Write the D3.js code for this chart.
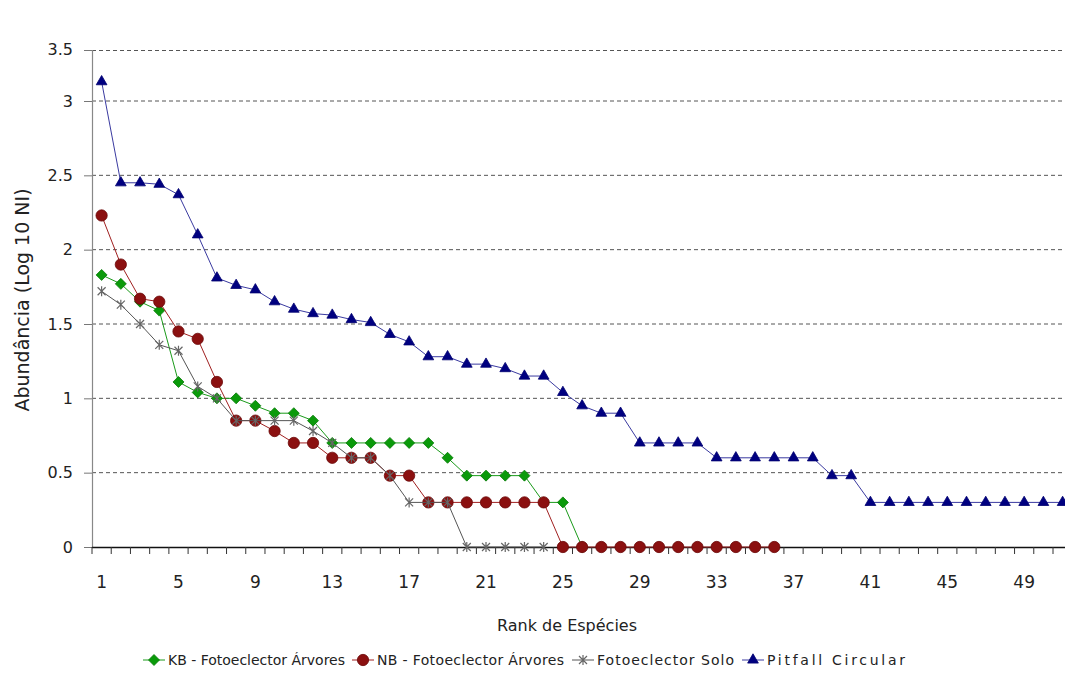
<!DOCTYPE html>
<html>
<head>
<meta charset="utf-8">
<script src="https://cdn.jsdelivr.net/npm/d3@7"></script>
<style>
  html, body { margin: 0; padding: 0; background: #fff; }
  svg { display: block; }
  text { font-family: "DejaVu Sans", Verdana, sans-serif; fill: #222; }
</style>
</head>
<body>
<svg id="chart" width="1065" height="693"></svg>
<script>
// ---------------- DATA ----------------
const ranks = [1,2,3,4,5,6,7,8,9,10,11,12,13,14,15,16,17,18,19,20,21,22,23,24,25,26,
  27,28,29,30,31,32,33,34,35,36,37,38,39,40,41,42,43,44,45,46,47,48,49,50,51];
const xTickLabels = [1,5,9,13,17,21,25,29,33,37,41,45,49];
const yTickValues = [0,0.5,1,1.5,2,2.5,3];
const yTopLabel = "3.5";

const seriesNames = ["KB - Fotoeclector Árvores", "NB - Fotoeclector Árvores", "Fotoeclector Solo", "Pitfall Circular"];

const kbValues = [1.83,1.77,1.65,1.59,1.11,1.04,1.00,1.00,0.95,0.90,0.90,0.85,0.70,0.70,0.70,0.70,0.70,0.70,
  0.60,0.48,0.48,0.48,0.48,0.30,0.30,0.00];
const nbValues = [2.23,1.90,1.67,1.65,1.45,1.40,1.11,0.85,0.85,0.78,0.70,0.70,0.60,0.60,0.60,0.48,0.48,
  0.30,0.30,0.30,0.30,0.30,0.30,0.30,0,0,0,0,0,0,0,0,0,0,0,0];
const soloValues = [1.72,1.63,1.50,1.36,1.32,1.08,1.00,0.85,0.85,0.85,0.85,0.78,0.70,0.60,0.60,0.48,
  0.30,0.30,0.30,0,0,0,0,0];
const pitfallValues = [3.13,2.45,2.45,2.44,2.37,2.10,1.81,1.76,1.73,1.65,1.60,1.57,1.56,1.53,1.51,1.43,
  1.38,1.28,1.28,1.23,1.23,1.20,1.15,1.15,1.04,0.95,0.90,0.90,0.70,0.70,0.70,0.70,
  0.60,0.60,0.60,0.60,0.60,0.60,0.48,0.48,0.30,0.30,0.30,0.30,0.30,0.30,0.30,0.30,0.30,0.30,0.30];

// ---------------- LAYOUT ----------------
const svg = d3.select("#chart");
const W = 1065, H = 693;
const plotLeft = 92, plotTop = 50, plotBottom = 547;
const bandW = 19.22;

const x = d3.scaleBand().domain(ranks).range([plotLeft, plotLeft + ranks.length * bandW]).padding(0);
const y = d3.scaleLinear().domain([0, 3]).range([plotBottom, 101]);
const cx = r => x(r) + x.bandwidth() / 2;
const plotRight = W;

// gridlines (dashed)
const grid = svg.append("g").attr("class", "grid");
grid.selectAll("line.g").data(yTickValues.filter(v => v > 0)).enter().append("line")
  .attr("x1", plotLeft).attr("x2", plotRight)
  .attr("y1", d => y(d)).attr("y2", d => y(d))
  .attr("stroke", "#555").attr("stroke-width", 1).attr("stroke-dasharray", "4,3");
// top gridline (3.5)
grid.append("line").attr("x1", plotLeft).attr("x2", plotRight)
  .attr("y1", plotTop + 0.5).attr("y2", plotTop + 0.5)
  .attr("stroke", "#555").attr("stroke-width", 1).attr("stroke-dasharray", "4,3");

// Y axis
const yAxis = svg.append("g").attr("transform", `translate(${plotLeft},0)`)
  .call(d3.axisLeft(y).tickValues(yTickValues).tickSize(8).tickPadding(11).tickFormat(d => String(d)));
yAxis.select(".domain").remove();
yAxis.selectAll(".tick line").attr("stroke", "#777");
yAxis.selectAll(".tick text").style("font-size", "16px").attr("fill", "#222");
// top tick + label 3.5
yAxis.append("line").attr("x1", -8).attr("x2", 0).attr("y1", plotTop + 0.5).attr("y2", plotTop + 0.5).attr("stroke", "#777");
yAxis.append("text").attr("x", -19).attr("y", plotTop).attr("dy", "0.32em")
  .attr("text-anchor", "end").style("font-size", "16px").text(yTopLabel);
yAxis.append("line").attr("x1", 0.5).attr("x2", 0.5).attr("y1", plotTop).attr("y2", plotBottom)
  .attr("stroke", "#888").attr("stroke-width", 1.2);

// X axis
const xAxis = svg.append("g").attr("transform", `translate(0,${plotBottom})`);
xAxis.append("line").attr("x1", plotLeft).attr("x2", plotRight).attr("y1", 0.5).attr("y2", 0.5)
  .attr("stroke", "#111").attr("stroke-width", 1.5);
const boundaries = ranks.map(r => x(r)).concat([x(ranks[ranks.length - 1]) + x.bandwidth()]);
xAxis.selectAll("line.tk").data(boundaries).enter().append("line")
  .attr("x1", d => d).attr("x2", d => d).attr("y1", 0).attr("y2", 7)
  .attr("stroke", "#333").attr("stroke-width", 1);
const xLab = svg.append("g").attr("transform", `translate(0,${plotBottom})`)
  .call(d3.axisBottom(x).tickValues(xTickLabels).tickSize(0).tickPadding(29));
xLab.select(".domain").remove();
xLab.selectAll(".tick text").style("font-size", "17px").attr("fill", "#222");

// Axis titles
svg.append("text").attr("x", 567).attr("y", 631).attr("text-anchor", "middle")
  .style("font-size", "16px").text("Rank de Espécies");
svg.append("text").attr("transform", "translate(29,300) rotate(-90)").attr("text-anchor", "middle")
  .style("font-size", "19px").text("Abundância (Log 10 NI)");

// ---------------- SERIES ----------------
const series = [
  { name: seriesNames[0], values: kbValues, line: "#1a9a1a", fill: "#0a9a0a", stroke: "#087a08", marker: "diamond" },
  { name: seriesNames[1], values: nbValues, line: "#a02020", fill: "#8b1010", stroke: "#6b0808", marker: "circle" },
  { name: seriesNames[2], values: soloValues, line: "#555", fill: "none", stroke: "#666", marker: "star" },
  { name: seriesNames[3], values: pitfallValues, line: "#3a3aa0", fill: "#000080", stroke: "#000070", marker: "triangle" }
];

function markerPath(type) {
  if (type === "diamond") return "M0,-5.5L5.5,0L0,5.5L-5.5,0Z";
  if (type === "circle") return d3.symbol(d3.symbolCircle, 100)();
  if (type === "triangle") return d3.symbol(d3.symbolTriangle, 50)();
  // star/asterisk: X plus vertical
  return "M-4,-4L4,4M-4,4L4,-4M0,-5L0,5";
}

const lineGen = d3.line().x((d, i) => cx(ranks[i])).y(d => y(d));
const defs = svg.append("defs");
defs.append("clipPath").attr("id", "clip").append("rect")
  .attr("x", 0).attr("y", 0).attr("width", W).attr("height", H);

const plotG = svg.append("g").attr("clip-path", "url(#clip)");
series.forEach(s => {
  const g = plotG.append("g");
  g.append("path").datum(s.values).attr("d", lineGen)
    .attr("fill", "none").attr("stroke", s.line).attr("stroke-width", 1);
  g.selectAll("path.m").data(s.values).enter().append("path")
    .attr("transform", (d, i) => `translate(${cx(ranks[i])},${y(d)})`)
    .attr("d", markerPath(s.marker))
    .attr("fill", s.fill).attr("stroke", s.stroke)
    .attr("stroke-width", s.marker === "star" ? 1.2 : 0.8);
});

// ---------------- LEGEND ----------------
const legendX = [143, 352, 572, 742];
const legendTextW = [177, 187, 137, 138];
const legend = svg.append("g").attr("transform", "translate(0,660)");
series.forEach((s, i) => {
  const it = legend.append("g").attr("transform", `translate(${legendX[i]},0)`);
  it.append("line").attr("x1", 0).attr("x2", 22).attr("y1", 0).attr("y2", 0)
    .attr("stroke", s.line).attr("stroke-width", 1);
  it.append("path").attr("transform", "translate(11,0)").attr("d", markerPath(s.marker))
    .attr("fill", s.fill).attr("stroke", s.stroke).attr("stroke-width", s.marker === "star" ? 1.2 : 0.8);
  it.append("text").attr("x", 25).attr("y", 0).attr("dy", "0.35em")
    .style("font-size", "14px")
    .attr("textLength", legendTextW[i]).attr("lengthAdjust", "spacing")
    .text(s.name);
});
</script>
</body>
</html>
